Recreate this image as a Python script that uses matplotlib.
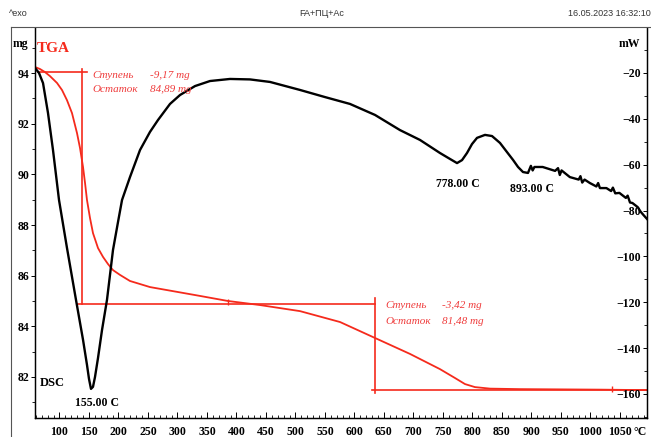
import numpy as np
import matplotlib
matplotlib.use("Agg")
import matplotlib.pyplot as plt
import matplotlib.ticker as tck
from matplotlib.lines import Line2D

W, H = 651, 437

# TGA curve (temperature C, mass mg)
tga_t = [58.5, 67.0, 75.4, 83.9, 95.8, 104.3, 112.7, 121.2, 129.7, 134.8, 139.9,
         143.3, 146.6, 151.7, 156.8, 165.3, 173.8, 182.2, 190.7, 202.6, 219.5,
         253.4, 338.2, 385.6, 439.9, 507.7, 575.5, 634.8, 694.1, 744.9, 770.3,
         787.3, 804.2, 829.7, 880.5, 1016.1, 1097.5]
tga_mg = [94.24, 94.16, 94.04, 93.88, 93.61, 93.33, 92.93, 92.42, 91.63, 91.04, 90.29,
          89.66, 88.99, 88.28, 87.68, 87.09, 86.74, 86.46, 86.22, 86.03, 85.79,
          85.55, 85.20, 85.00, 84.84, 84.60, 84.17, 83.54, 82.91, 82.31, 81.96,
          81.72, 81.60, 81.54, 81.52, 81.50, 81.48]

# DSC curve (temperature C, heat flow mW)
dsc_t = [58.5, 65.3, 72.1, 80.5, 89.0, 99.2, 112.7, 128.0, 139.9, 146.6, 150.0,
         153.4, 156.8, 160.2, 165.3, 172.1, 180.5, 190.7, 199.2, 206.0, 219.5,
         236.5, 253.4, 267.0, 287.3, 304.3, 329.7, 355.1, 389.0, 422.9, 456.8,
         507.7, 550.0, 592.4, 634.8, 677.1, 711.0, 744.9, 761.9, 773.8, 782.3,
         790.7, 799.2, 807.7, 821.2, 833.1, 846.6, 858.5, 868.7, 877.2, 885.6,
         894.1, 899.0, 902.0, 905.0, 919.0, 940.0, 945.0, 948.0, 951.0, 965.0,
         980.0, 983.0, 986.0, 990.0, 999.0, 1010.0, 1013.0, 1016.0, 1027.0,
         1035.0, 1038.0, 1042.0, 1049.0, 1060.0, 1063.0, 1067.0, 1071.0, 1080.0,
         1085.0, 1090.0, 1097.0]
dsc_mw = [-17.8, -20.0, -24.4, -37.4, -53.6, -75.4, -96.3, -119.0, -136.4, -147.3, -153.4,
          -157.8, -156.9, -152.6, -144.3, -132.1, -119.0, -97.2, -85.0, -75.4, -65.4,
          -53.6, -45.7, -40.5, -33.5, -29.6, -25.7, -23.5, -22.6, -22.8, -23.9,
          -27.4, -30.5, -33.5, -38.3, -44.9, -49.2, -54.9, -57.5, -59.3, -58.0,
          -54.9, -51.0, -48.3, -47.0, -47.5, -50.5, -54.5, -57.9, -61.0, -63.2,
          -63.6, -60.5, -62.5, -61.0, -61.0, -62.7, -61.5, -64.5, -62.5, -65.4,
          -66.5, -65.0, -67.8, -66.5, -68.0, -69.5, -68.0, -70.2, -70.2,
          -71.5, -70.0, -72.5, -72.3, -74.5, -73.5, -76.5, -76.7, -78.5,
          -80.5, -82.0, -84.0]

# TGA step evaluation lines
step1_start, step1_end = 94.06, 84.89
step2_end = 81.48
step1_t, step2_t = 139.0, 634.8

x_ticks = list(range(100, 1051, 50))
mg_ticks = list(range(82, 95, 2))
mw_ticks = list(range(-160, -19, 20))

RED = "#f52a1c"
serif = "Liberation Serif"

fig = plt.figure(figsize=(W / 100, H / 100), dpi=100)
ax = fig.add_axes([35 / W, 1 - 418 / H, 612 / W, 390 / H])
ax2 = ax.twinx()

ax.set_xlim(58.5, 1095.8)
ax.set_ylim(80.38, 95.78)
ax2.set_ylim(-170.5, -0.37)

ax.plot(tga_t, tga_mg, color=RED, lw=1.3, zorder=2, solid_joinstyle="round")
ax2.plot(dsc_t, dsc_mw, color="black", lw=1.7, zorder=3, solid_joinstyle="round")

# step markers
ax.plot([63, 147], [step1_start] * 2, color=RED, lw=1.2)
ax.plot([step1_t] * 2, [94.16, step1_end], color=RED, lw=1.2)
ax.plot([131, step2_t], [step1_end] * 2, color=RED, lw=1.2)
ax.plot([step2_t] * 2, [85.13, 81.38], color=RED, lw=1.2)
ax.plot([630, 1095.8], [step2_end] * 2, color=RED, lw=1.2)
ax.plot([385.6], [step1_end + 0.06], marker="|", color=RED, ms=4, mew=1)
ax.plot([1036], [step2_end + 0.06], marker="|", color=RED, ms=5, mew=1)

# axes styling
for a in (ax, ax2):
    a.spines["top"].set_visible(False)
    for s in a.spines.values():
        s.set_linewidth(0.9)

ax.xaxis.set_major_locator(tck.FixedLocator(x_ticks))
ax.xaxis.set_minor_locator(tck.MultipleLocator(10))
ax.tick_params(axis="x", which="major", direction="in", length=4, width=0.7, pad=6)
ax.tick_params(axis="x", which="minor", direction="in", length=2.5, width=0.6)

ax.yaxis.set_major_locator(tck.FixedLocator(mg_ticks))
ax.yaxis.set_minor_locator(tck.MultipleLocator(1))
ax.tick_params(axis="y", which="major", direction="out", length=3, width=0.7, pad=1)
ax.tick_params(axis="y", which="minor", direction="out", length=2, width=0.6)

ax2.yaxis.set_major_locator(tck.FixedLocator(mw_ticks))
ax2.yaxis.set_minor_locator(tck.MultipleLocator(10))
ax2.tick_params(axis="y", which="major", direction="in", length=3, width=0.7, pad=-4.5)
ax2.tick_params(axis="y", which="minor", direction="in", length=2, width=0.6)

for lbl in ax.get_xticklabels() + ax.get_yticklabels() + ax2.get_yticklabels():
    lbl.set_fontfamily(serif)
    lbl.set_fontweight("bold")
    lbl.set_fontsize(8.5)
for lbl in ax2.get_yticklabels():
    lbl.set_horizontalalignment("right")


def px(x, y):
    return x / W, 1 - y / H


# frame lines
fig.add_artist(Line2D([11 / W, 1], [1 - 27 / H] * 2, color="#555555", lw=0.8))
fig.add_artist(Line2D([11 / W] * 2, [0, 1 - 27 / H], color="#555555", lw=0.8))

# header
hdr = dict(fontsize=6.5, color="#333333", va="center", family="Liberation Sans")
fig.text(*px(9, 13), "^exo", ha="left", **hdr)
fig.text(*px(322, 13), "FA+ПЦ+Ac", ha="center", **hdr)
fig.text(*px(651, 13), "16.05.2023 16:32:10", ha="right", **hdr)

# axis titles and curve names
bold = dict(family=serif, fontweight="bold", va="center")
fig.text(*px(13, 44), "mg", ha="left", fontsize=8.5, **bold)
fig.text(*px(640, 44), "mW", ha="right", fontsize=8.5, **bold)
fig.text(*px(37, 49), "TGA", ha="left", fontsize=11, color=RED, **bold)
fig.text(*px(40, 383), "DSC", ha="left", fontsize=9, **bold)
fig.text(*px(633, 432), "°C", ha="left", fontsize=8.5, **bold)

fig.text(*px(97, 403), "155.00 C", ha="center", fontsize=8.5, **bold)
fig.text(*px(458, 184), "778.00 C", ha="center", fontsize=8.5, **bold)
fig.text(*px(532, 189), "893.00 C", ha="center", fontsize=8.5, **bold)

# step annotations
it = dict(family=serif, style="italic", color="#ef3b3b", fontsize=8, va="center", ha="left")
fig.text(*px(92, 75), "Ступень", **it)
fig.text(*px(150, 75), "-9,17 mg", **it)
fig.text(*px(92, 89), "Остаток", **it)
fig.text(*px(150, 89), "84,89 mg", **it)
fig.text(*px(385, 306), "Ступень", **it)
fig.text(*px(442, 306), "-3,42 mg", **it)
fig.text(*px(385, 322), "Остаток", **it)
fig.text(*px(442, 322), "81,48 mg", **it)

fig.savefig("out.png", dpi=100)
